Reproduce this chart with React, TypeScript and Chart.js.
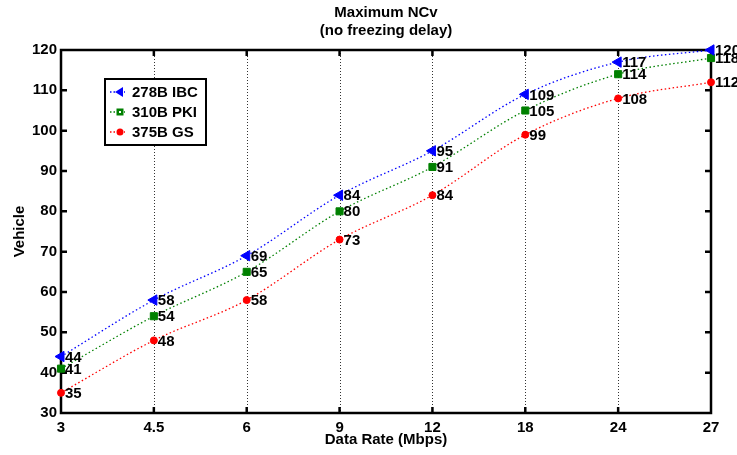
import { useEffect, useRef } from "react";
import { Chart, registerables } from "chart.js";

Chart.register(...registerables);

// Data rates (Mbps) on the x axis, equally spaced categories
const rates = ["3", "4.5", "6", "9", "12", "18", "24", "27"];

// Maximum number of vehicles per scheme
const ibcValues = [44, 58, 69, 84, 95, 109, 117, 120];
const pkiValues = [41, 54, 65, 80, 91, 105, 114, 118];
const gsValues = [35, 48, 58, 73, 84, 99, 108, 112];

const seriesNames = ["278B IBC", "310B PKI", "375B GS"];
const seriesColors = ["#0000ff", "#008000", "#ff0000"];

const titleLines = ["Maximum NCv", "(no freezing delay)"];
const xTitle = "Data Rate (Mbps)";
const yTitle = "Vehicle";

const yMin = 30;
const yMax = 120;
const yStep = 10;

const FONT = "bold 15px 'Liberation Sans', Arial, sans-serif";

const framePlugin = {
  id: "frame",
  beforeDatasetsDraw(chart: any) {
    const { ctx, chartArea: a, scales } = chart;
    const xs = scales.x;
    const ys = scales.y;
    ctx.save();
    // dotted vertical grid lines at the inner categories
    ctx.strokeStyle = "#333";
    ctx.lineWidth = 1;
    ctx.setLineDash([1, 2]);
    for (let i = 1; i < rates.length - 1; i++) {
      const x = Math.round(xs.getPixelForTick(i)) + 0.5;
      ctx.beginPath();
      ctx.moveTo(x, a.top);
      ctx.lineTo(x, a.bottom);
      ctx.stroke();
    }
    ctx.setLineDash([]);
    // inward tick marks on all four sides
    ctx.strokeStyle = "#000";
    ctx.lineWidth = 2.5;
    for (let i = 1; i < rates.length - 1; i++) {
      const x = xs.getPixelForTick(i);
      ctx.beginPath();
      ctx.moveTo(x, a.bottom);
      ctx.lineTo(x, a.bottom - 6);
      ctx.moveTo(x, a.top);
      ctx.lineTo(x, a.top + 6);
      ctx.stroke();
    }
    for (let v = yMin + yStep; v < yMax; v += yStep) {
      const y = ys.getPixelForValue(v);
      ctx.beginPath();
      ctx.moveTo(a.left, y);
      ctx.lineTo(a.left + 6, y);
      ctx.moveTo(a.right, y);
      ctx.lineTo(a.right - 6, y);
      ctx.stroke();
    }
    // axes box
    ctx.lineWidth = 2.5;
    ctx.strokeRect(a.left, a.top, a.right - a.left, a.bottom - a.top);
    ctx.restore();
  },
  afterDatasetsDraw(chart: any) {
    const { ctx, chartArea: a } = chart;
    ctx.save();
    // value labels next to each marker
    ctx.font = FONT;
    ctx.fillStyle = "#000";
    ctx.textAlign = "left";
    ctx.textBaseline = "middle";
    chart.data.datasets.forEach((ds: any, di: number) => {
      const meta = chart.getDatasetMeta(di);
      meta.data.forEach((pt: any, i: number) => {
        ctx.fillText(String(ds.data[i]), pt.x + 4, pt.y + 1);
      });
    });

    // legend box
    const bx = 105;
    const by = 79;
    const bw = 101;
    const bh = 66;
    ctx.fillStyle = "#fff";
    ctx.fillRect(bx, by, bw, bh);
    ctx.lineWidth = 2;
    ctx.strokeStyle = "#000";
    ctx.strokeRect(bx, by, bw, bh);
    seriesNames.forEach((name, i) => {
      const y = by + 13 + i * 20;
      const color = seriesColors[i];
      ctx.strokeStyle = color;
      ctx.lineWidth = 1.5;
      ctx.setLineDash([1.5, 2]);
      ctx.beginPath();
      ctx.moveTo(bx + 5, y);
      ctx.lineTo(bx + 20, y);
      ctx.stroke();
      ctx.setLineDash([]);
      ctx.fillStyle = color;
      const mx = bx + 15;
      ctx.beginPath();
      if (i === 0) {
        ctx.moveTo(mx - 5, y);
        ctx.lineTo(mx + 3, y - 5);
        ctx.lineTo(mx + 3, y + 5);
        ctx.closePath();
        ctx.fill();
      } else if (i === 1) {
        ctx.fillRect(mx - 3.5, y - 3.5, 7, 7);
        ctx.fillStyle = "#fff";
        ctx.fillRect(mx - 1, y - 1, 2, 2);
      } else {
        ctx.arc(mx, y, 3.5, 0, Math.PI * 2);
        ctx.fill();
      }
      ctx.fillStyle = "#000";
      ctx.font = FONT;
      ctx.textAlign = "left";
      ctx.fillText(name, bx + 27, y + 1);
    });

    // title and axis titles
    const cx = (a.left + a.right) / 2;
    ctx.textAlign = "center";
    ctx.fillText(titleLines[0], cx, 13);
    ctx.fillText(titleLines[1], cx, 31);
    ctx.fillText(xTitle, cx, 440);
    ctx.translate(20, (a.top + a.bottom) / 2);
    ctx.rotate(-Math.PI / 2);
    ctx.fillText(yTitle, 0, 0);
    ctx.restore();
  },
};

export default function App() {
  const canvasRef = useRef<HTMLCanvasElement | null>(null);

  useEffect(() => {
    const canvas = canvasRef.current;
    if (!canvas) return;
    const mk = (label: string, data: number[], color: string, style: string, radius: number, rotation = 0) => ({
      label,
      data,
      borderColor: color,
      backgroundColor: color,
      pointBackgroundColor: color,
      pointBorderColor: color,
      borderWidth: 1.3,
      borderDash: [1.5, 2.5],
      pointStyle: style,
      pointRadius: radius,
      pointRotation: rotation,
      pointBorderWidth: 1,
      cubicInterpolationMode: "monotone" as const,
      clip: false as const,
    });
    const chart = new Chart(canvas, {
      type: "line",
      data: {
        labels: rates,
        datasets: [
          mk(seriesNames[0], ibcValues, seriesColors[0], "triangle", 6, -90),
          mk(seriesNames[1], pkiValues, seriesColors[1], "rect", 5),
          mk(seriesNames[2], gsValues, seriesColors[2], "circle", 3.5),
        ],
      },
      options: {
        responsive: false,
        animation: false,
        devicePixelRatio: 1,
        layout: { padding: { top: 50, right: 26, left: 0, bottom: 0 } },
        plugins: {
          legend: { display: false },
          title: { display: false },
          tooltip: { enabled: false },
        },
        scales: {
          x: {
            type: "category",
            offset: false,
            grid: { display: false, drawTicks: false },
            border: { display: false },
            ticks: {
              color: "#000",
              font: { family: "'Liberation Sans', Arial, sans-serif", size: 15, weight: "bold" },
              padding: 6,
              maxRotation: 0,
              autoSkip: false,
            },
            afterFit: (s: any) => {
              s.height = 42;
            },
          },
          y: {
            min: yMin,
            max: yMax,
            grid: { display: false, drawTicks: false },
            border: { display: false },
            ticks: {
              stepSize: yStep,
              color: "#000",
              font: { family: "'Liberation Sans', Arial, sans-serif", size: 15, weight: "bold" },
              padding: 4,
            },
            afterFit: (s: any) => {
              s.width = 61;
            },
          },
        },
      },
      plugins: [framePlugin],
    });
    return () => chart.destroy();
  }, []);

  return (
    <div style={{ position: "absolute", left: 0, top: 0, width: 737, height: 455, background: "#fff" }}>
      <canvas ref={canvasRef} width={737} height={455} />
    </div>
  );
}
